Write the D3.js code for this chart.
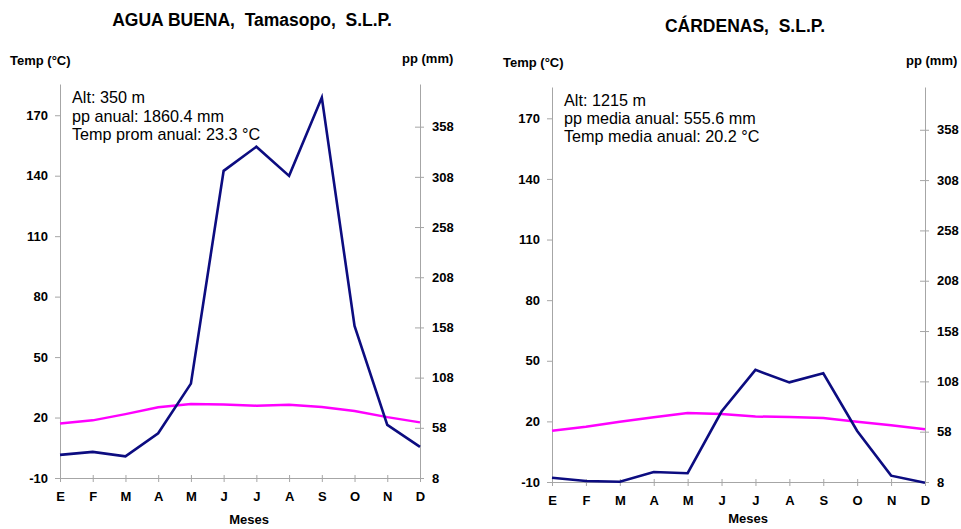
<!DOCTYPE html>
<html>
<head>
<meta charset="utf-8">
<script src="https://cdn.jsdelivr.net/npm/d3@7"></script>
<style>
  body { margin:0; background:#fff; }
  svg { font-family: "Liberation Sans", Arial, sans-serif; }
</style>
</head>
<body>
<svg id="chart" width="961" height="529"></svg>
<script>
/* Climograms: precipitation (navy) and temperature (magenta) by month, two stations */
const MONTHS = ['E','F','M','A','M','J','J','A','S','O','N','D'];
const TEMP_TICKS = [-10, 20, 50, 80, 110, 140, 170];
const PP_TICKS = [8, 58, 108, 158, 208, 258, 308, 358];

const aguaBuenaPp   = [31, 34, 29.6, 52.5, 102, 314, 338, 309, 387, 159.5, 61, 39];
const aguaBuenaTemp = [17.1, 18.6, 21.7, 25.1, 26.7, 26.5, 25.9, 26.3, 25.2, 23.2, 20.2, 17.6];
const aguaBuenaInfo = ['Alt: 350 m', 'pp anual: 1860.4 mm', 'Temp prom anual: 23.3 °C'];

const cardenasPp   = [12.3, 9, 8.3, 18, 16.7, 78, 119.4, 107, 116, 58.7, 14.3, 7.3];
const cardenasTemp = [15.4, 17.3, 19.8, 22.1, 24.1, 23.7, 22.4, 22.2, 21.7, 19.8, 18.1, 16.1];
const cardenasInfo = ['Alt: 1215 m', 'pp media anual: 555.6 mm', 'Temp media anual: 20.2 °C'];

const svg = d3.select('#chart');
const AXIS_COLOR = '#a6a6a6';

function drawClimogram(opt){
  const { x0, x1, y0, y1, title, titleX, titleY, pp, temp, info, infoY } = opt;
  const g = svg.append('g');

  const x = d3.scalePoint().domain(d3.range(MONTHS.length)).range([x0, x1]);
  const yT = d3.scaleLinear().domain([-10, 185.5]).range([y0, y1]);
  const yP = d3.scaleLinear().domain([8, 400.5]).range([y0, y1]);

  // title + axis titles
  g.append('text').attr('x', titleX).attr('y', titleY).attr('text-anchor','middle')
    .style('font-size','17.5px').style('font-weight','bold').style('white-space','pre')
    .attr('xml:space','preserve').text(title);
  g.append('text').attr('x', opt.tempLabelX).attr('y', opt.axisLabelY + 2)
    .style('font-size','13px').style('font-weight','bold').text('Temp (°C)');
  g.append('text').attr('x', opt.ppLabelX).attr('y', opt.axisLabelY)
    .style('font-size','13px').style('font-weight','bold').text('pp (mm)');

  // left axis (temperature) - plain hyphen for negatives, as in the original
  const left = g.append('g').attr('transform',`translate(${x0},0)`)
    .call(d3.axisLeft(yT).tickValues(TEMP_TICKS).tickFormat(d=>String(d))
      .tickSize(5).tickSizeOuter(0).tickPadding(7));
  // right axis (precipitation), ticks cross the line
  const right = g.append('g').attr('transform',`translate(${x1},0)`)
    .call(d3.axisRight(yP).tickValues(PP_TICKS).tickFormat(d=>String(d))
      .tickSize(4).tickSizeOuter(0).tickPadding(8));
  right.selectAll('.tick line').attr('x1',-5).attr('x2',4);
  // bottom axis (months)
  const bottom = g.append('g').attr('transform',`translate(0,${y0})`)
    .call(d3.axisBottom(x).tickFormat(i=>MONTHS[i]).tickSize(4).tickSizeOuter(0).tickPadding(10));
  bottom.selectAll('.tick line').attr('y1',-3).attr('y2',4);

  [left, right, bottom].forEach(a=>{
    a.select('.domain').attr('stroke', AXIS_COLOR);
    a.selectAll('.tick line').attr('stroke', AXIS_COLOR);
    a.selectAll('.tick text').attr('fill','#000')
      .style('font-size','13px').style('font-weight','bold')
      .style('font-family','"Liberation Sans", Arial, sans-serif');
  });

  g.append('text').attr('x', opt.mesesX).attr('y', opt.mesesY).attr('text-anchor','middle')
    .style('font-size','13px').style('font-weight','bold').text('Meses');

  // station info
  g.append('g').selectAll('text').data(info).enter().append('text')
    .attr('x', x0 + 12).attr('y', (d,i)=> infoY + i*18.3)
    .style('font-size','16.2px').text(d=>d);

  // lines
  const ppLine = d3.line().x((d,i)=>x(i)).y(d=>yP(d));
  const tLine = d3.line().x((d,i)=>x(i)).y(d=>yT(d));
  g.append('path').datum(temp).attr('d', tLine)
    .attr('fill','none').attr('stroke','#ff00ff').attr('stroke-width',2.5);
  g.append('path').datum(pp).attr('d', ppLine)
    .attr('fill','none').attr('stroke','#0c0c80').attr('stroke-width',2.6)
    .attr('stroke-linejoin','miter');
}

drawClimogram({
  x0: 60, x1: 420, y0: 478, y1: 84,
  title: 'AGUA BUENA,  Tamasopo,  S.L.P.', titleX: 252, titleY: 26,
  tempLabelX: 10, ppLabelX: 402, axisLabelY: 63, mesesX: 249, mesesY: 524,
  pp: aguaBuenaPp, temp: aguaBuenaTemp, info: aguaBuenaInfo, infoY: 103.3
});

drawClimogram({
  x0: 552, x1: 925, y0: 482, y1: 87,
  title: 'CÁRDENAS,  S.L.P.', titleX: 745, titleY: 31.5,
  tempLabelX: 503, ppLabelX: 906, axisLabelY: 65, mesesX: 748, mesesY: 523,
  pp: cardenasPp, temp: cardenasTemp, info: cardenasInfo, infoY: 105.7
});
</script>
</body>
</html>
